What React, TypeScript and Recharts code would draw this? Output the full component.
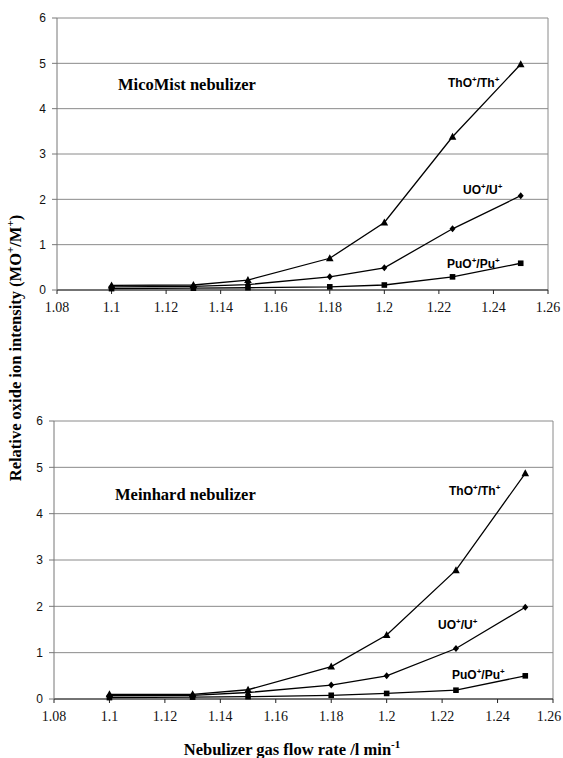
import { CartesianGrid, Line, LineChart, ReferenceLine, XAxis, YAxis } from 'recharts';

// flow rate (l/min)
const flowTop = [1.1, 1.13, 1.15, 1.18, 1.2, 1.225, 1.25];
const flowBottom = [1.1, 1.13, 1.15, 1.18, 1.2, 1.225, 1.25];

// MicoMist nebulizer
const thMico = [0.1, 0.11, 0.22, 0.7, 1.49, 3.38, 4.98];
const uMico = [0.07, 0.08, 0.12, 0.29, 0.49, 1.35, 2.08];
const puMico = [0.03, 0.04, 0.05, 0.07, 0.11, 0.29, 0.59];

// Meinhard nebulizer
const thMein = [0.1, 0.1, 0.2, 0.7, 1.38, 2.78, 4.87];
const uMein = [0.07, 0.08, 0.14, 0.3, 0.5, 1.09, 1.98];
const puMein = [0.03, 0.04, 0.05, 0.08, 0.12, 0.19, 0.5];

const xTicks = [1.08, 1.1, 1.12, 1.14, 1.16, 1.18, 1.2, 1.22, 1.24, 1.26];
const yTicks = [0, 1, 2, 3, 4, 5, 6];

const serif = '"Liberation Serif", "Times New Roman", serif';
const sans = '"Liberation Sans", Arial, sans-serif';

const Triangle = (props: any) => {
  const { cx, cy } = props;
  if (cx == null || cy == null) return null;
  return <path d={`M${cx},${cy - 4} L${cx + 3.8},${cy + 3} L${cx - 3.8},${cy + 3} Z`} fill="#000" />;
};
const Diamond = (props: any) => {
  const { cx, cy } = props;
  if (cx == null || cy == null) return null;
  return <path d={`M${cx},${cy - 3.5} L${cx + 3},${cy} L${cx},${cy + 3.5} L${cx - 3},${cy} Z`} fill="#000" />;
};
const Square = (props: any) => {
  const { cx, cy } = props;
  if (cx == null || cy == null) return null;
  return <rect x={cx - 2.8} y={cy - 2.8} width={5.6} height={5.6} fill="#000" />;
};

// serif tick labels on the flow-rate axis
const FlowTick = (props: any) => {
  const { x, y, payload } = props;
  return (
    <text
      x={x}
      y={y + 13}
      textAnchor="middle"
      fontFamily="Liberation Serif"
      fontSize={14}
      fill="#111"
      style={{ fontFamily: serif }}
    >
      {String(payload.value)}
    </text>
  );
};

function rows(x: number[], th: number[], u: number[], pu: number[]) {
  return x.map((v, i) => ({ x: v, th: th[i], u: u[i], pu: pu[i] }));
}

function OxideChart({ data, margin }: { data: any[]; margin: any }) {
  return (
    <LineChart width={563} height={330} data={data} margin={margin}>
      <CartesianGrid vertical={false} stroke="#8a8a8a" strokeWidth={1} />
      <ReferenceLine x={1.26} stroke="#8a8a8a" />
      <XAxis
        dataKey="x"
        type="number"
        domain={[1.08, 1.26]}
        ticks={xTicks}
        allowDataOverflow
        height={30}
        stroke="#222"
        tickSize={4}
        tickMargin={5}
        tick={<FlowTick />}
      />
      <YAxis
        type="number"
        domain={[0, 6]}
        ticks={yTicks}
        width={40}
        stroke="#777"
        tickSize={5}
        tickMargin={6}
        tick={{ fontFamily: sans, fontSize: 12, fill: '#111' }}
      />
      <Line dataKey="th" stroke="#000" strokeWidth={1.3} dot={<Triangle />} activeDot={false} isAnimationActive={false} />
      <Line dataKey="u" stroke="#000" strokeWidth={1.3} dot={<Diamond />} activeDot={false} isAnimationActive={false} />
      <Line dataKey="pu" stroke="#000" strokeWidth={1.3} dot={<Square />} activeDot={false} isAnimationActive={false} />
    </LineChart>
  );
}

const seriesLabel = (left: number, top: number, a: string, b: string) => (
  <div
    style={{
      position: 'absolute',
      left,
      top,
      fontFamily: sans,
      fontWeight: 'bold',
      fontSize: 12,
      whiteSpace: 'nowrap',
      lineHeight: '14px',
    }}
  >
    {a}
    <sup style={{ fontSize: 8 }}>+</sup>/{b}
    <sup style={{ fontSize: 8 }}>+</sup>
  </div>
);

const title = (left: number, top: number, text: string) => (
  <div
    style={{
      position: 'absolute',
      left,
      top,
      fontFamily: serif,
      fontWeight: 'bold',
      fontSize: 16.5,
      whiteSpace: 'nowrap',
      lineHeight: '18px',
    }}
  >
    {text}
  </div>
);

export default function App() {
  return (
    <div style={{ position: 'absolute', left: 0, top: 0, width: 563, height: 758, background: '#fff', overflow: 'hidden' }}>
      <div style={{ position: 'absolute', left: 0, top: 0 }}>
        <OxideChart data={rows(flowTop, thMico, uMico, puMico)} margin={{ top: 18, right: 15, left: 17, bottom: 10 }} />
      </div>
      <div style={{ position: 'absolute', left: 0, top: 400 }}>
        <OxideChart data={rows(flowBottom, thMein, uMein, puMein)} margin={{ top: 21, right: 10, left: 14, bottom: 1 }} />
      </div>

      {title(118, 76, 'MicoMist nebulizer')}
      {seriesLabel(448, 73, 'ThO', 'Th')}
      {seriesLabel(463, 180, 'UO', 'U')}
      {seriesLabel(447, 254, 'PuO', 'Pu')}

      {title(115, 486, 'Meinhard nebulizer')}
      {seriesLabel(449, 481, 'ThO', 'Th')}
      {seriesLabel(438, 615, 'UO', 'U')}
      {seriesLabel(452, 665, 'PuO', 'Pu')}

      <div
        style={{
          position: 'absolute',
          left: 15,
          top: 348,
          transform: 'translate(-50%, -50%) rotate(-90deg)',
          fontFamily: serif,
          fontWeight: 'bold',
          fontSize: 16.5,
          whiteSpace: 'nowrap',
        }}
      >
        Relative oxide ion intensity (MO<sup style={{ fontSize: 11 }}>+</sup>/M<sup style={{ fontSize: 11 }}>+</sup>)
      </div>
      <div
        style={{
          position: 'absolute',
          left: 292,
          top: 749,
          transform: 'translate(-50%, -50%)',
          fontFamily: serif,
          fontWeight: 'bold',
          fontSize: 16.5,
          whiteSpace: 'nowrap',
        }}
      >
        Nebulizer gas flow rate /l min<sup style={{ fontSize: 11 }}>-1</sup>
      </div>
    </div>
  );
}
